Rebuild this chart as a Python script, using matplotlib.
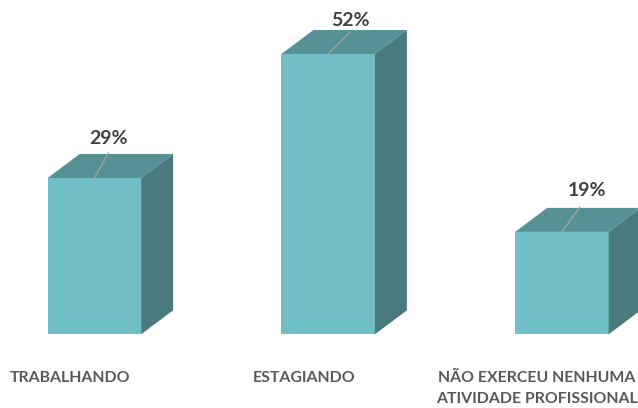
import matplotlib
matplotlib.use("Agg")
import matplotlib.pyplot as plt
import matplotlib.patches as patches

categories = ["TRABALHANDO", "ESTAGIANDO", "NÃO EXERCEU NENHUMA\nATIVIDADE PROFISSIONAL"]
values = [29, 52, 19]
value_labels = ["29%", "52%", "19%"]

plt.rcParams['font.family'] = ['Lato', 'DejaVu Sans']

W, H = 638, 408
px_x = 233.75   # pixels per category
px_y = 5.39     # pixels per percent
x0 = 94.4
y0 = 334.3

bar_w = 93.5 / px_x
dx = 32 / px_x
dy = 24 / px_y

fig = plt.figure(figsize=(W / 100, H / 100), dpi=100)
ax = fig.add_axes([0, 0, 1, 1])
ax.set_xlim(-x0 / px_x, (W - x0) / px_x)
ax.set_ylim(-(H - y0) / px_y, y0 / px_y)
ax.axis("off")

front = "#70BFC6"
top = "#579195"
side = "#4A7A7D"
text_col = "#404040"
line_col = "#A6A6A6"

# leader line offsets per bar, in pixels
lead = [(14, 25), (22, 22), (18, 25)]
lab_off = [(14.5, 39), (22, 34), (25, 41)]
cat_off = [-24, -24, -25]

for i, v in enumerate(values):
    l = i - bar_w / 2
    r = i + bar_w / 2
    ax.bar(i, v, width=bar_w, color=front, linewidth=0, zorder=2)
    ax.add_patch(patches.Polygon([(l, v), (r, v), (r + dx, v + dy), (l + dx, v + dy)],
                                 closed=True, facecolor=top, linewidth=0, zorder=2))
    ax.add_patch(patches.Polygon([(r, 0), (r + dx, dy), (r + dx, v + dy), (r, v)],
                                 closed=True, facecolor=side, linewidth=0, zorder=2))
    ax.plot([i, i + lead[i][0] / px_x], [v, v + lead[i][1] / px_y],
            color=line_col, linewidth=0.9, zorder=3)
    ax.text(i + lab_off[i][0] / px_x, v + lab_off[i][1] / px_y, value_labels[i],
            ha="center", va="center", fontsize=14, fontweight="bold", color=text_col, zorder=4)
    ax.text(i + cat_off[i] / px_x, -36.5 / px_y, categories[i], ha="center", va="top",
            fontsize=11.4, fontweight="bold", color="#595959", linespacing=1.6)

fig.savefig("out.png", dpi=100)
